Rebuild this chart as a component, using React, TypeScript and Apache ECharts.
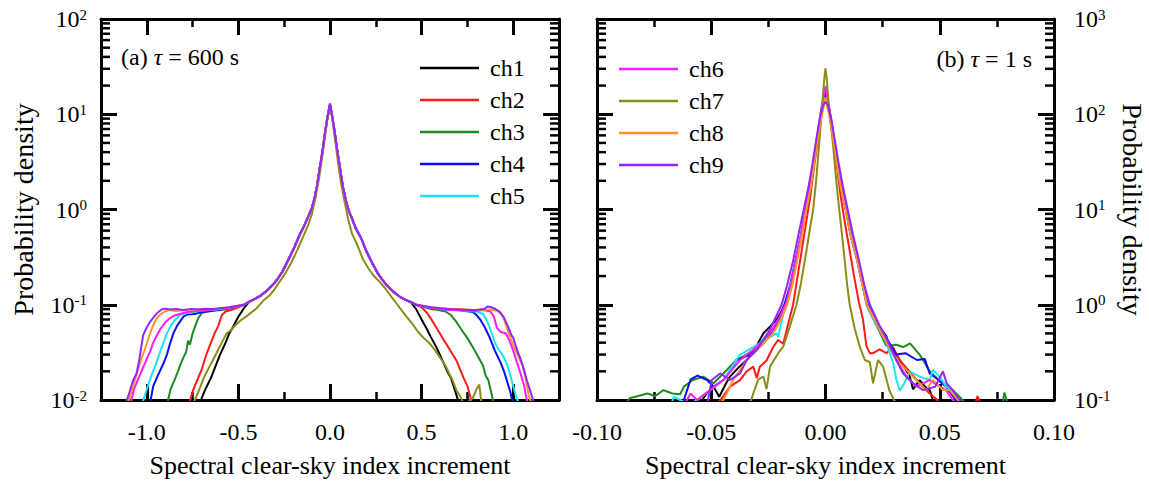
import React, { useEffect, useRef } from "react";
import * as echarts from "echarts";

type P = [number, number];

const FONT = "Liberation Serif";

const names = ["ch1", "ch2", "ch3", "ch4", "ch5", "ch6", "ch7", "ch8", "ch9"];
const colors = ["#000000", "#ff1a1a", "#1f8a1f", "#0a0aff", "#19e6f0", "#ff1aff", "#8c8c19", "#ff9326", "#9326ff"];

// left panel (tau = 600 s): shared central part
const coreL: P[] = [[-0.44,0.108],[-0.41,0.115],[-0.38,0.124],[-0.35,0.138],[-0.32,0.156],[-0.29,0.182],[-0.26,0.222],[-0.23,0.29],[-0.2,0.38],[-0.17,0.52],[-0.14,0.68],[-0.12,0.83],[-0.1,1.02],[-0.085,1.3],[-0.07,1.8],[-0.055,2.8],[-0.04,4.2],[-0.027,6.4],[-0.015,9.0],[-0.006,11.2]];
const coreR: P[] = [[0.006,11.0],[0.015,8.8],[0.027,6.2],[0.04,4.1],[0.055,2.7],[0.07,1.75],[0.085,1.28],[0.1,1.0],[0.12,0.8],[0.14,0.64],[0.17,0.5],[0.2,0.36],[0.23,0.275],[0.26,0.215],[0.29,0.178],[0.32,0.152],[0.35,0.135],[0.38,0.122],[0.41,0.113],[0.44,0.107]];
const peaksA = [12.8, 10.0, 12.5, 12.6, 12.7, 12.4, 12.5, 11.5, 13.0];

const tailsL: P[][] = [
  [[-0.72,0.008],[-0.70,0.0105],[-0.68,0.013],[-0.65,0.017],[-0.62,0.024],[-0.60,0.03],[-0.57,0.04],[-0.55,0.05],[-0.53,0.058],[-0.50,0.075],[-0.47,0.092]],
  [[-0.78,0.008],[-0.765,0.0098],[-0.745,0.013],[-0.72,0.017],[-0.70,0.021],[-0.675,0.03],[-0.65,0.04],[-0.63,0.05],[-0.61,0.06],[-0.59,0.078],[-0.57,0.085],[-0.54,0.088],[-0.50,0.094],[-0.47,0.1]],
  [[-0.90,0.008],[-0.885,0.0098],[-0.87,0.013],[-0.85,0.016],[-0.83,0.02],[-0.815,0.024],[-0.80,0.028],[-0.785,0.032],[-0.775,0.042],[-0.765,0.038],[-0.75,0.05],[-0.735,0.06],[-0.72,0.072],[-0.70,0.082],[-0.67,0.085],[-0.63,0.087],[-0.59,0.088],[-0.55,0.092],[-0.51,0.095],[-0.47,0.1]],
  [[-0.995,0.008],[-0.98,0.0098],[-0.965,0.014],[-0.94,0.018],[-0.91,0.024],[-0.89,0.03],[-0.875,0.038],[-0.855,0.05],[-0.835,0.06],[-0.82,0.066],[-0.80,0.075],[-0.78,0.079],[-0.74,0.08],[-0.70,0.084],[-0.65,0.086],[-0.60,0.089],[-0.55,0.092],[-0.51,0.096],[-0.47,0.1]],
  [[-1.035,0.008],[-1.02,0.0098],[-1.0,0.013],[-0.975,0.018],[-0.95,0.024],[-0.92,0.035],[-0.89,0.05],[-0.87,0.06],[-0.85,0.068],[-0.82,0.078],[-0.78,0.082],[-0.74,0.084],[-0.70,0.087],[-0.65,0.088],[-0.60,0.09],[-0.55,0.093],[-0.51,0.096],[-0.47,0.1]],
  [[-1.10,0.008],[-1.085,0.0098],[-1.07,0.013],[-1.045,0.017],[-1.02,0.022],[-1.0,0.027],[-0.98,0.033],[-0.965,0.04],[-0.947,0.047],[-0.925,0.056],[-0.90,0.065],[-0.875,0.072],[-0.85,0.077],[-0.82,0.08],[-0.78,0.084],[-0.72,0.086],[-0.66,0.088],[-0.60,0.09],[-0.55,0.093],[-0.51,0.096],[-0.47,0.1]],
  [],
  [[-1.115,0.008],[-1.10,0.0098],[-1.085,0.012],[-1.07,0.015],[-1.05,0.02],[-1.03,0.027],[-1.01,0.034],[-0.99,0.045],[-0.97,0.058],[-0.95,0.07],[-0.93,0.078],[-0.91,0.083],[-0.88,0.088],[-0.84,0.086],[-0.78,0.088],[-0.72,0.089],[-0.66,0.09],[-0.60,0.091],[-0.55,0.094],[-0.51,0.097],[-0.47,0.101]],
  [[-1.13,0.008],[-1.11,0.0098],[-1.095,0.012],[-1.075,0.016],[-1.056,0.019],[-1.04,0.027],[-1.03,0.036],[-1.02,0.048],[-1.0,0.058],[-0.98,0.067],[-0.96,0.075],[-0.94,0.083],[-0.92,0.089],[-0.90,0.091],[-0.87,0.089],[-0.84,0.09],[-0.80,0.088],[-0.76,0.09],[-0.72,0.089],[-0.68,0.091],[-0.64,0.09],[-0.60,0.092],[-0.55,0.094],[-0.51,0.097],[-0.47,0.1]],
];
const tailsR: P[][] = [
  [[0.47,0.09],[0.50,0.07],[0.53,0.055],[0.55,0.046],[0.58,0.036],[0.61,0.027],[0.64,0.02],[0.66,0.017],[0.68,0.013],[0.70,0.0098],[0.72,0.008]],
  [[0.47,0.1],[0.50,0.094],[0.53,0.082],[0.55,0.072],[0.57,0.062],[0.60,0.05],[0.62,0.043],[0.645,0.036],[0.67,0.03],[0.69,0.026],[0.71,0.021],[0.73,0.017],[0.75,0.014],[0.765,0.011],[0.78,0.008]],
  [[0.47,0.1],[0.51,0.095],[0.55,0.09],[0.59,0.088],[0.63,0.085],[0.66,0.078],[0.69,0.066],[0.72,0.054],[0.745,0.046],[0.765,0.04],[0.79,0.033],[0.82,0.026],[0.835,0.023],[0.85,0.018],[0.865,0.016],[0.88,0.012],[0.89,0.0098],[0.90,0.008]],
  [[0.47,0.1],[0.51,0.096],[0.55,0.092],[0.60,0.09],[0.65,0.088],[0.70,0.088],[0.74,0.086],[0.78,0.084],[0.80,0.078],[0.82,0.07],[0.845,0.058],[0.87,0.046],[0.90,0.033],[0.93,0.025],[0.95,0.02],[0.97,0.015],[0.985,0.012],[0.995,0.0098],[1.01,0.008]],
  [[0.47,0.1],[0.51,0.096],[0.55,0.093],[0.60,0.09],[0.65,0.089],[0.70,0.088],[0.75,0.086],[0.80,0.085],[0.836,0.08],[0.86,0.066],[0.88,0.052],[0.90,0.04],[0.92,0.034],[0.945,0.029],[0.965,0.024],[0.985,0.018],[1.0,0.014],[1.015,0.011],[1.025,0.0098],[1.04,0.008]],
  [[0.47,0.1],[0.51,0.096],[0.55,0.093],[0.60,0.09],[0.66,0.088],[0.72,0.087],[0.78,0.086],[0.84,0.088],[0.875,0.085],[0.895,0.075],[0.91,0.058],[0.93,0.052],[0.96,0.05],[0.98,0.042],[1.0,0.033],[1.02,0.025],[1.04,0.019],[1.06,0.014],[1.075,0.0098],[1.09,0.008]],
  [],
  [[0.47,0.101],[0.51,0.097],[0.55,0.094],[0.60,0.092],[0.66,0.09],[0.72,0.09],[0.78,0.088],[0.84,0.089],[0.9,0.088],[0.93,0.084],[0.95,0.07],[0.97,0.054],[0.99,0.042],[1.01,0.034],[1.03,0.028],[1.055,0.022],[1.07,0.016],[1.085,0.011],[1.095,0.0098],[1.11,0.008]],
  [[0.47,0.1],[0.51,0.097],[0.55,0.094],[0.60,0.092],[0.65,0.09],[0.70,0.089],[0.75,0.088],[0.80,0.088],[0.84,0.09],[0.86,0.096],[0.88,0.094],[0.90,0.091],[0.92,0.086],[0.947,0.075],[0.97,0.06],[0.99,0.048],[1.0,0.045],[1.02,0.034],[1.04,0.027],[1.055,0.022],[1.075,0.016],[1.09,0.013],[1.11,0.0098],[1.12,0.008]],
];
// ch7 in the left panel has its own narrower shape
const olive600: P[] = [[-0.76,0.008],[-0.74,0.0098],[-0.72,0.012],[-0.70,0.015],[-0.69,0.017],[-0.66,0.022],[-0.64,0.026],[-0.62,0.031],[-0.60,0.037],[-0.585,0.042],[-0.565,0.05],[-0.54,0.054],[-0.52,0.06],[-0.49,0.068],[-0.455,0.076],[-0.43,0.083],[-0.40,0.092],[-0.365,0.11],[-0.33,0.125],[-0.30,0.148],[-0.27,0.18],[-0.24,0.22],[-0.21,0.28],[-0.18,0.37],[-0.15,0.5],[-0.12,0.68],[-0.1,0.88],[-0.08,1.3],[-0.06,2.1],[-0.045,3.3],[-0.03,5.3],[-0.015,8.6],[-0.005,11.5],[0,12.5],[0.005,11.2],[0.015,8.2],[0.03,5.0],[0.045,3.0],[0.06,1.9],[0.08,1.2],[0.1,0.78],[0.12,0.56],[0.15,0.42],[0.18,0.3],[0.21,0.24],[0.24,0.2],[0.27,0.175],[0.30,0.15],[0.33,0.125],[0.36,0.105],[0.39,0.088],[0.42,0.074],[0.45,0.063],[0.48,0.052],[0.51,0.045],[0.54,0.04],[0.57,0.034],[0.60,0.028],[0.63,0.023],[0.65,0.019],[0.67,0.016],[0.69,0.0126],[0.71,0.011],[0.725,0.0095],[0.74,0.009],[0.76,0.0098],[0.78,0.0105],[0.80,0.013],[0.815,0.0145],[0.825,0.0098],[0.84,0.008]];

// right panel (tau = 1 s)
const dataB: P[][] = [
  [[-0.054,0.1],[-0.052,0.117],[-0.049,0.138],[-0.0465,0.108],[-0.0435,0.15],[-0.0418,0.176],[-0.038,0.22],[-0.0345,0.263],[-0.031,0.34],[-0.0272,0.5],[-0.024,0.6],[-0.021,0.72],[-0.0175,1.0],[-0.015,1.6],[-0.0128,3.0],[-0.0105,5.5],[-0.0086,10],[-0.0066,17],[-0.0051,32],[-0.0035,58],[-0.0018,110],[0,175],[0.0018,105],[0.0035,58],[0.0051,32],[0.0068,17],[0.0089,10],[0.011,5.4],[0.0138,3.0],[0.016,1.7],[0.018,1.05],[0.021,0.76],[0.0245,0.55],[0.0266,0.47],[0.028,0.36],[0.031,0.3],[0.0345,0.22],[0.0368,0.18],[0.0383,0.13],[0.0412,0.162],[0.0435,0.138],[0.0456,0.127],[0.047,0.1],[0.05,0.08]],
  [[-0.05,0.08],[-0.046,0.1],[-0.0418,0.138],[-0.0374,0.162],[-0.0345,0.2],[-0.0316,0.224],[-0.0301,0.17],[-0.0287,0.224],[-0.0258,0.26],[-0.0229,0.36],[-0.0207,0.427],[-0.0185,0.39],[-0.0163,0.63],[-0.0142,1.0],[-0.0125,1.8],[-0.0105,3.6],[-0.0086,7],[-0.0066,14],[-0.005,28],[-0.0033,55],[-0.0017,100],[0,155],[0.0017,100],[0.0033,55],[0.005,28],[0.0066,14],[0.0086,7],[0.0105,3.8],[0.0125,2.0],[0.0145,1.1],[0.0164,0.7],[0.0179,0.37],[0.0194,0.31],[0.0208,0.31],[0.0237,0.34],[0.0266,0.31],[0.0295,0.36],[0.0325,0.26],[0.0368,0.2],[0.041,0.15],[0.0456,0.117],[0.049,0.1],[0.052,0.07],[0.06,0.06],[0.0655,0.09],[0.0665,0.11],[0.068,0.09],[0.072,0.06]],
  [[-0.09,0.08],[-0.0854,0.105],[-0.082,0.11],[-0.078,0.117],[-0.0745,0.11],[-0.0709,0.127],[-0.067,0.117],[-0.0636,0.115],[-0.062,0.138],[-0.058,0.162],[-0.0535,0.176],[-0.049,0.15],[-0.0447,0.19],[-0.039,0.263],[-0.0345,0.3],[-0.0316,0.335],[-0.0272,0.43],[-0.0229,0.55],[-0.02,0.72],[-0.0175,1.0],[-0.015,1.6],[-0.0128,3.0],[-0.0105,5.5],[-0.0086,10],[-0.0066,17],[-0.005,32],[-0.0034,60],[-0.0017,110],[0,190],[0.0017,110],[0.0034,58],[0.0051,32],[0.0068,17],[0.0089,10],[0.011,5.4],[0.0138,3.0],[0.016,1.7],[0.018,1.0],[0.021,0.7],[0.0237,0.52],[0.0266,0.37],[0.031,0.38],[0.034,0.36],[0.037,0.394],[0.0412,0.3],[0.0456,0.2],[0.051,0.15],[0.056,0.125],[0.06,0.1],[0.066,0.07],[0.074,0.075],[0.0775,0.09],[0.0783,0.12],[0.0795,0.095],[0.083,0.07]],
  [[-0.066,0.07],[-0.062,0.1],[-0.059,0.165],[-0.056,0.18],[-0.0518,0.162],[-0.049,0.138],[-0.0447,0.162],[-0.0418,0.2],[-0.039,0.263],[-0.0359,0.28],[-0.0316,0.31],[-0.0272,0.394],[-0.024,0.5],[-0.021,0.68],[-0.018,1.0],[-0.0155,1.6],[-0.013,3.0],[-0.0107,5.5],[-0.0087,10],[-0.0067,17],[-0.0051,32],[-0.0035,58],[-0.0018,108],[0,175],[0.0018,105],[0.0035,58],[0.0051,32],[0.0069,17],[0.009,10],[0.0112,5.4],[0.014,3.0],[0.0163,1.7],[0.0185,1.0],[0.022,0.68],[0.0266,0.45],[0.031,0.3],[0.035,0.31],[0.04,0.263],[0.0434,0.27],[0.0456,0.19],[0.0495,0.162],[0.0528,0.138],[0.057,0.1],[0.06,0.08]],
  [[-0.068,0.08],[-0.0665,0.108],[-0.0636,0.1],[-0.06,0.09],[-0.056,0.1],[-0.0518,0.12],[-0.0447,0.162],[-0.0418,0.207],[-0.0374,0.3],[-0.0316,0.36],[-0.0215,0.5],[-0.0207,0.462],[-0.0185,0.8],[-0.0168,1.1],[-0.0148,1.8],[-0.0127,3.1],[-0.0105,5.6],[-0.0086,10],[-0.0066,17],[-0.0051,33],[-0.0035,60],[-0.0018,115],[0,200],[0.0018,110],[0.0035,60],[0.0051,33],[0.0068,17],[0.0089,10],[0.011,5.4],[0.0138,3.0],[0.016,1.7],[0.018,1.0],[0.021,0.7],[0.0245,0.5],[0.0266,0.4],[0.0295,0.25],[0.031,0.165],[0.0325,0.125],[0.0345,0.15],[0.0368,0.2],[0.0412,0.176],[0.0456,0.162],[0.047,0.207],[0.05,0.176],[0.0528,0.138],[0.0557,0.127],[0.058,0.1],[0.062,0.08]],
  [[-0.063,0.08],[-0.059,0.117],[-0.0563,0.1],[-0.0505,0.127],[-0.0447,0.162],[-0.0374,0.263],[-0.0301,0.363],[-0.0243,0.5],[-0.02,0.75],[-0.0172,1.05],[-0.015,1.7],[-0.0128,3.1],[-0.0105,5.7],[-0.0086,10.5],[-0.0066,18],[-0.0051,34],[-0.0035,62],[-0.0018,115],[0,195],[0.0018,112],[0.0035,60],[0.0051,33],[0.0068,17.5],[0.0089,10.2],[0.011,5.5],[0.0138,3.0],[0.016,1.7],[0.0182,1.0],[0.0215,0.7],[0.025,0.48],[0.028,0.36],[0.031,0.263],[0.0354,0.176],[0.0397,0.138],[0.0456,0.162],[0.05,0.138],[0.0528,0.127],[0.0557,0.1],[0.06,0.08]],
  [[-0.036,0.08],[-0.0325,0.1],[-0.0316,0.117],[-0.0294,0.165],[-0.0272,0.176],[-0.0258,0.13],[-0.0243,0.224],[-0.0207,0.31],[-0.0185,0.363],[-0.0156,0.59],[-0.0127,1.0],[-0.0109,1.6],[-0.009,2.95],[-0.0072,5.5],[-0.0054,10],[-0.0041,20],[-0.0028,48],[-0.0015,120],[-0.0006,229],[0,303],[0.0006,229],[0.0015,120],[0.0033,48],[0.0047,20],[0.006,10],[0.0072,5.5],[0.0084,2.95],[0.0095,1.6],[0.0106,1.0],[0.0128,0.56],[0.015,0.363],[0.0172,0.263],[0.0194,0.25],[0.0208,0.15],[0.023,0.263],[0.0252,0.224],[0.028,0.125],[0.03,0.1],[0.033,0.08]],
  [[-0.048,0.08],[-0.0447,0.1],[-0.0404,0.162],[-0.0374,0.207],[-0.0345,0.263],[-0.0316,0.31],[-0.0272,0.394],[-0.023,0.5],[-0.0195,0.7],[-0.0168,1.0],[-0.0145,1.6],[-0.0123,3.0],[-0.0102,5.5],[-0.0084,10],[-0.0065,17],[-0.005,30],[-0.0034,55],[-0.0017,95],[0,150],[0.0017,95],[0.0034,55],[0.005,30],[0.0067,17],[0.0088,10],[0.011,5.4],[0.0138,3.0],[0.016,1.7],[0.0182,1.0],[0.0215,0.7],[0.025,0.48],[0.028,0.36],[0.031,0.263],[0.0354,0.207],[0.0397,0.162],[0.0441,0.127],[0.047,0.162],[0.0514,0.127],[0.0543,0.127],[0.058,0.1],[0.062,0.08]],
  [[-0.053,0.08],[-0.0514,0.1],[-0.0498,0.162],[-0.0461,0.19],[-0.0418,0.162],[-0.0374,0.19],[-0.0345,0.263],[-0.0301,0.335],[-0.0243,0.55],[-0.0192,1.0],[-0.0168,1.6],[-0.0141,2.95],[-0.0118,5.5],[-0.0095,10],[-0.0075,17],[-0.0057,30],[-0.004,55],[-0.0025,90],[-0.001,125],[0,135],[0.001,125],[0.0025,90],[0.004,55],[0.0058,30],[0.0077,17],[0.0097,10],[0.012,5.5],[0.0146,2.95],[0.017,1.6],[0.0194,1.0],[0.0237,0.6],[0.0266,0.45],[0.031,0.263],[0.034,0.19],[0.0383,0.15],[0.0427,0.127],[0.048,0.138],[0.0514,0.2],[0.053,0.15],[0.0557,0.127],[0.0587,0.1],[0.062,0.08]],
];

// log minor tick values
const minorA = [0.02,0.03,0.04,0.05,0.06,0.07,0.08,0.09,0.2,0.3,0.4,0.5,0.6,0.7,0.8,0.9,2,3,4,5,6,7,8,9,20,30,40,50,60,70,80,90];
const minorB = [0.2,0.3,0.4,0.5,0.6,0.7,0.8,0.9,2,3,4,5,6,7,8,9,20,30,40,50,60,70,80,90,200,300,400,500,600,700,800,900];

const axisLineStyle = { onZero: false, lineStyle: { color: "#000", width: 3 } };
const tickStyle = { inside: true, length: 16, lineStyle: { color: "#000", width: 3 } };
const minorStyle = { show: true, splitNumber: 2, length: 8, lineStyle: { color: "#000", width: 2.5 } };
const labelText = { fontSize: 24, fontFamily: FONT, color: "#000" };
const xTitleText = { fontSize: 26, fontFamily: FONT, color: "#000" };
const yTitleText = { fontSize: 28, fontFamily: FONT, color: "#000" };
const logLabel = (v: number) => `10{e|${Math.round(Math.log10(v))}}`;
const rich = { e: { fontSize: 15, fontFamily: FONT, color: "#000", verticalAlign: "top", lineHeight: 15 } };

export default function App() {
  const ref = useRef<HTMLDivElement>(null);
  useEffect(() => {
    if (!ref.current) return;
    const chart = echarts.init(ref.current, undefined, { renderer: "svg" });

    const leftSeries = names.map((n, i) => ({
      type: "line", name: n, xAxisIndex: 0, yAxisIndex: 0, symbol: "none", showSymbol: false,
      lineStyle: { color: colors[i], width: 2 }, itemStyle: { color: colors[i] }, clip: true,
      data: i === 6 ? olive600 : [...tailsL[i], ...coreL, [0, peaksA[i]], ...coreR, ...tailsR[i]],
    }));
    const rightSeries = names.map((n, i) => ({
      type: "line", name: n, xAxisIndex: 2, yAxisIndex: 2, symbol: "none", showSymbol: false,
      lineStyle: { color: colors[i], width: 2 }, itemStyle: { color: colors[i] }, clip: true,
      data: dataB[i],
    }));
    const minorSeries = (xi: number, yi: number, vals: number[]) => ({
      type: "custom", xAxisIndex: xi, yAxisIndex: yi, silent: true, clip: false, z: 5,
      data: vals.map((v) => [0, v]),
      renderItem: (params: any, api: any) => {
        const y = api.coord([0, api.value(1)])[1];
        const cs = params.coordSys;
        const st = { stroke: "#000", lineWidth: 2.5 };
        return {
          type: "group",
          children: [
            { type: "line", shape: { x1: cs.x, y1: y, x2: cs.x + 9, y2: y }, style: st },
            { type: "line", shape: { x1: cs.x + cs.width, y1: y, x2: cs.x + cs.width - 9, y2: y }, style: st },
          ],
        };
      },
    });

    const xName = {
      name: "Spectral clear-sky index increment", nameLocation: "middle", nameGap: 52,
      nameTextStyle: xTitleText,
    };
    const legendBase = {
      orient: "vertical", icon: "rect", itemWidth: 59, itemHeight: 2.5, itemGap: 8, selectedMode: false,
      textStyle: { ...labelText, lineHeight: 24, padding: [0, 0, 0, 6] },
    };

    chart.setOption({
      animation: false,
      backgroundColor: "#fff",
      grid: [
        { left: 101, top: 19, width: 458, height: 381 },
        { left: 597, top: 19, width: 457, height: 381 },
      ],
      xAxis: [
        { type: "value", gridIndex: 0, min: -1.25, max: 1.25, splitNumber: 5, position: "bottom",
          axisLine: axisLineStyle, axisTick: tickStyle, minorTick: minorStyle, splitLine: { show: false },
          axisLabel: { ...labelText, margin: 20, showMinLabel: false, showMaxLabel: false,
            formatter: (v: number) => v.toFixed(1) }, ...xName },
        { type: "value", gridIndex: 0, min: -1.25, max: 1.25, splitNumber: 5, position: "top",
          axisLine: axisLineStyle, axisTick: tickStyle, minorTick: minorStyle, splitLine: { show: false },
          axisLabel: { show: false } },
        { type: "value", gridIndex: 1, min: -0.1, max: 0.1, interval: 0.05, position: "bottom",
          axisLine: axisLineStyle, axisTick: tickStyle, minorTick: minorStyle, splitLine: { show: false },
          axisLabel: { ...labelText, margin: 20, formatter: (v: number) => v.toFixed(2) }, ...xName },
        { type: "value", gridIndex: 1, min: -0.1, max: 0.1, interval: 0.05, position: "top",
          axisLine: axisLineStyle, axisTick: tickStyle, minorTick: minorStyle, splitLine: { show: false },
          axisLabel: { show: false } },
      ],
      yAxis: [
        { type: "log", logBase: 10, gridIndex: 0, min: 0.01, max: 100, position: "left",
          axisLine: axisLineStyle, axisTick: tickStyle, splitLine: { show: false },
          axisLabel: { ...labelText, margin: 14, formatter: logLabel, rich },
          name: "Probability density", nameLocation: "middle", nameRotate: 90, nameGap: 64,
          nameTextStyle: yTitleText },
        { type: "log", logBase: 10, gridIndex: 0, min: 0.01, max: 100, position: "right",
          axisLine: axisLineStyle, axisTick: tickStyle, splitLine: { show: false }, axisLabel: { show: false } },
        { type: "log", logBase: 10, gridIndex: 1, min: 0.1, max: 1000, position: "right",
          axisLine: axisLineStyle, axisTick: tickStyle, splitLine: { show: false },
          axisLabel: { ...labelText, margin: 20, formatter: logLabel, rich },
          name: "Probability density", nameLocation: "middle", nameRotate: -90, nameGap: 64,
          nameTextStyle: yTitleText },
        { type: "log", logBase: 10, gridIndex: 1, min: 0.1, max: 1000, position: "left",
          axisLine: axisLineStyle, axisTick: tickStyle, splitLine: { show: false }, axisLabel: { show: false } },
      ],
      legend: [
        { ...legendBase, data: names.slice(0, 5), left: 415, top: 51 },
        { ...legendBase, data: names.slice(5), left: 614, top: 52 },
      ],
      graphic: [
        { type: "text", left: 121, top: 45, style: { text: "(a) {i|τ} = 600 s", fill: "#000", fontSize: 24,
          fontFamily: FONT, rich: { i: { fontStyle: "italic", fontSize: 24, fontFamily: FONT, fill: "#000" } } } },
        { type: "text", right: 117, top: 47, style: { text: "(b) {i|τ} = 1 s", fill: "#000", fontSize: 24,
          fontFamily: FONT, rich: { i: { fontStyle: "italic", fontSize: 24, fontFamily: FONT, fill: "#000" } } } },
      ],
      series: [...leftSeries, ...rightSeries, minorSeries(0, 0, minorA), minorSeries(2, 2, minorB)],
    });
    return () => chart.dispose();
  }, []);
  return <div ref={ref} style={{ position: "fixed", left: 0, top: 0, width: 1149, height: 494, background: "#fff" }} />;
}
